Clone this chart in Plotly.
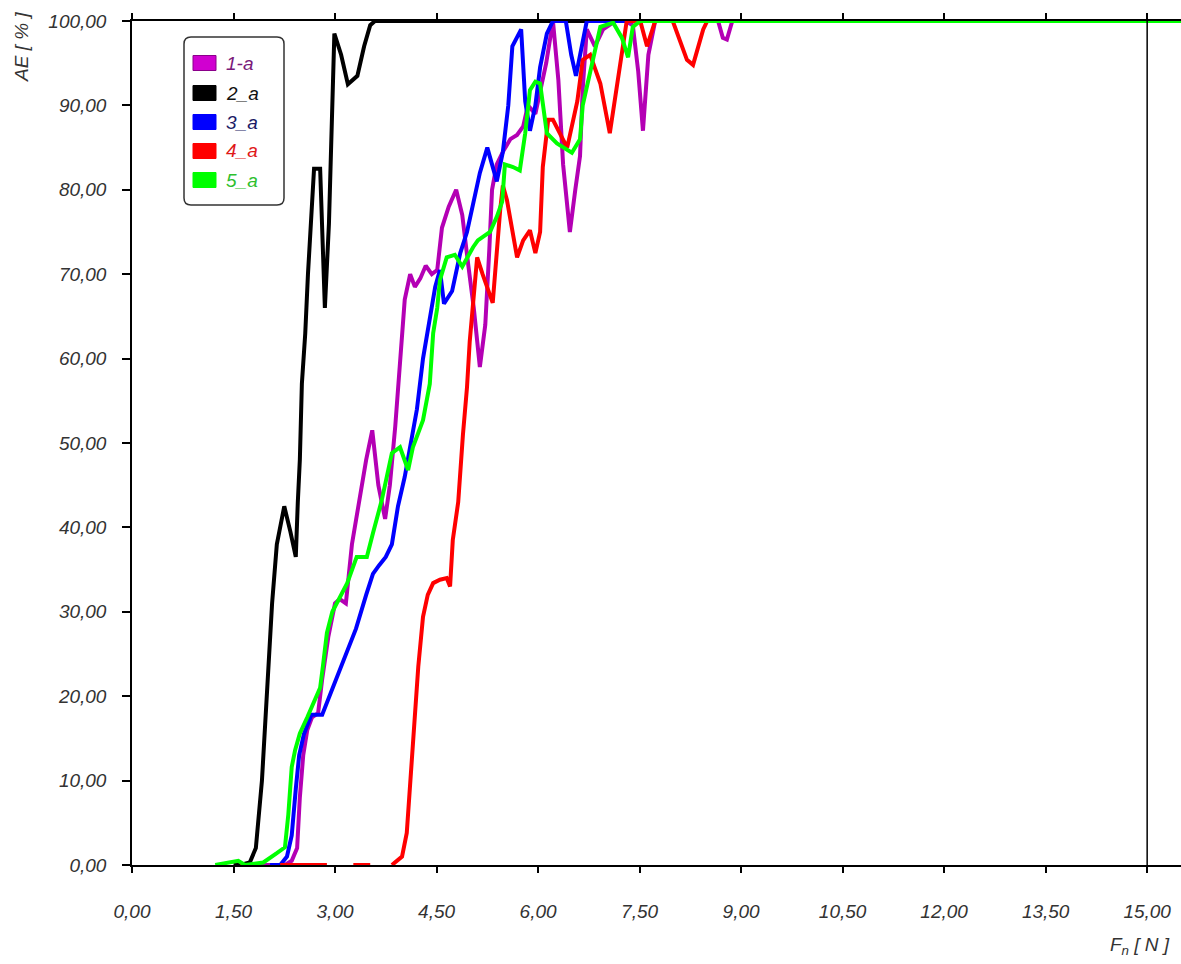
import plotly.graph_objects as go

# ---------------- data ----------------
names = ["1-a", "2_a", "3_a", "4_a", "5_a"]
line_colors = ["#B400B4", "#000000", "#0000FF", "#FF0000", "#00FF00"]
text_colors = ["#7A1A7A", "#111111", "#1A1A66", "#E01818", "#2EC02E"]

x_1a = [1.80, 2.26, 2.36, 2.44, 2.48, 2.53, 2.59, 2.66, 2.75, 2.81, 2.90, 3.00, 3.07, 3.16,
        3.25, 3.37, 3.46, 3.55, 3.64, 3.74, 3.81, 3.89, 3.96, 4.03, 4.11, 4.18, 4.26, 4.34,
        4.43, 4.51, 4.58, 4.68, 4.79, 4.88, 4.97, 5.05, 5.14, 5.22, 5.28, 5.32, 5.39, 5.48,
        5.59, 5.69, 5.78, 5.85, 5.96, 6.04, 6.12, 6.22, 6.30, 6.37, 6.43, 6.47, 6.55, 6.62,
        6.66, 6.72, 6.84, 6.96, 7.14, 7.29, 7.40, 7.48, 7.55, 7.63, 7.73, 8.66, 8.73, 8.79,
        8.87, 15.5]
y_1a = [0, 0, 0.5, 2, 8, 13, 16, 17.5, 18, 22, 27, 31, 31.5, 31,
        38, 44, 48, 51.5, 45, 41, 45, 52, 60, 67, 70, 68.5, 69.5, 71,
        70, 70.5, 75.5, 78, 80, 77, 71, 66, 59, 64, 73, 80, 83, 84.5,
        86, 86.5, 87.5, 90, 89, 92, 95, 100, 93, 83, 78, 75, 80, 84,
        92, 99, 97, 99, 100, 100, 99.5, 94, 87, 96, 100, 100, 98, 97.8,
        100, 100]

x_2a = [1.50, 1.60, 1.74, 1.83, 1.92, 1.99, 2.07, 2.14, 2.25, 2.34, 2.42, 2.45, 2.48, 2.51,
        2.56, 2.60, 2.65, 2.69, 2.78, 2.82, 2.85, 2.91, 2.96, 2.99, 3.09, 3.19, 3.33, 3.43,
        3.52, 3.59, 15.5]
y_2a = [0, 0, 0.3, 2, 10, 20, 31, 38, 42.5, 39.5, 36.5, 43, 48, 57,
        63, 70, 78, 82.5, 82.5, 72, 66, 76, 90, 98.5, 96, 92.5, 93.5, 97,
        99.5, 100, 100]

x_3a = [2.04, 2.19, 2.29, 2.36, 2.42, 2.47, 2.54, 2.65, 2.81, 2.97, 3.16, 3.31, 3.46, 3.56,
        3.65, 3.75, 3.84, 3.93, 4.03, 4.12, 4.21, 4.30, 4.40, 4.48, 4.55, 4.61, 4.73, 4.85,
        4.95, 5.05, 5.14, 5.25, 5.32, 5.39, 5.48, 5.56, 5.62, 5.75, 5.81, 5.88, 5.96, 6.03,
        6.13, 6.22, 6.41, 6.49, 6.56, 6.64, 6.72, 15.5]
y_3a = [0, 0, 1, 3.5, 9, 13, 15.5, 17.8, 17.8, 21, 25, 28, 32, 34.5,
        35.5, 36.5, 38, 42.5, 46, 50, 54, 60, 65, 68.5, 70.5, 66.5, 68, 72.5,
        75, 78.5, 82, 85, 83, 81, 84.5, 90, 97, 99, 90.5, 87, 90, 94.5,
        98.5, 100, 100, 96, 93.5, 97, 100, 100]

x_4a = [1.60, 1.67, None, 2.19, 2.88, None, 3.27, 3.52, None, 3.84, 3.99, 4.06, 4.11, 4.15,
        4.23, 4.30, 4.37, 4.45, 4.55, 4.65, 4.70, 4.74, 4.82, 4.89, 4.95, 4.99, 5.04, 5.10,
        5.18, 5.33, 5.44, 5.48, 5.54, 5.69, 5.78, 5.88, 5.96, 6.03, 6.07, 6.15, 6.22, 6.32,
        6.43, 6.58, 6.66, 6.77, 6.92, 7.06, 7.21, 7.31, 7.51, 7.61, 7.73, 7.99, 8.20, 8.29,
        8.44, 8.50, 15.5]
y_4a = [0, 0, None, 0, 0, None, 0, 0, None, 0, 1, 3.8, 9.7, 15.6,
        23.5, 29.4, 32, 33.4, 33.8, 34, 33, 38.5, 43, 51, 56.6, 62, 67, 72,
        70, 66.6, 77.6, 80.5, 78.8, 72, 74, 75.2, 72.5, 75, 82.7, 88.3, 88.3, 86.7,
        85, 90.5, 95.4, 96, 92.6, 86.7, 94.5, 100, 100, 97, 100, 100, 95.4, 94.8,
        99, 100, 100]

x_5a = [1.23, 1.45, 1.57, 1.67, 1.94, 2.14, 2.26, 2.31, 2.36, 2.41, 2.48, 2.59, 2.70, 2.78,
        2.82, 2.88, 2.96, 3.07, 3.18, 3.32, 3.47, 3.56, 3.69, 3.84, 3.96, 4.08, 4.15, 4.30,
        4.40, 4.45, 4.51, 4.55, 4.65, 4.77, 4.88, 5.04, 5.11, 5.29, 5.39, 5.47, 5.51, 5.63,
        5.73, 5.81, 5.88, 5.96, 6.03, 6.13, 6.28, 6.50, 6.62, 6.66, 6.77, 6.92, 7.11, 7.24,
        7.33, 7.40, 7.51, 15.5]
y_5a = [0, 0.3, 0.5, 0, 0.3, 1.4, 2.1, 6, 11.6, 13.6, 15.6, 17.5, 19.5, 21,
        23.5, 27.5, 30, 31.6, 33.4, 36.5, 36.5, 39.3, 43.2, 48.8, 49.5, 46.8, 49.5, 52.7,
        57, 63, 66, 69.3, 72, 72.3, 70.9, 73.2, 74, 75, 76.8, 78.6, 83, 82.7,
        82.3, 86.7, 91.8, 92.8, 92.6, 86.7, 85.5, 84.4, 86, 90, 94, 99.3, 99.8, 98,
        95.7, 99.3, 100, 100]

xs = [x_1a, x_2a, x_3a, x_4a, x_5a]
ys = [y_1a, y_2a, y_3a, y_4a, y_5a]

x_ticks = [0, 1.5, 3, 4.5, 6, 7.5, 9, 10.5, 12, 13.5, 15]
x_ticklabels = ["0,00", "1,50", "3,00", "4,50", "6,00", "7,50", "9,00",
                "10,50", "12,00", "13,50", "15,00"]
y_ticks = [0, 10, 20, 30, 40, 50, 60, 70, 80, 90, 100]
y_ticklabels = ["0,00", "10,00", "20,00", "30,00", "40,00", "50,00", "60,00",
                "70,00", "80,00", "90,00", "100,00"]

# ---------------- layout geometry (pixels) ----------------
W, H = 1181, 964
L, R, T, B = 132, 0, 21, 99
PW = W - L - R
PH = H - T - B


def px_x(px):
    return (px - L) / PW


def px_y(py):
    return (H - B - py) / PH


FONT = "Liberation Sans, Arial, sans-serif"
TXT = "#333333"

fig = go.Figure()
for name, c, x, y in zip(names, line_colors, xs, ys):
    fig.add_trace(go.Scatter(x=x, y=y, mode="lines", name=name,
                             line=dict(color=c, width=4), showlegend=False,
                             hoverinfo="skip"))

# vertical line at x = 15
fig.add_shape(type="line", xref="x", yref="paper", x0=15, x1=15, y0=-0.006, y1=1.008,
              line=dict(color="black", width=1.5))

# custom legend box (rounded)
bx0, bx1, by0, by1 = px_x(184), px_x(284), px_y(205), px_y(37)
rx, ry = 7 / PW, 7 / PH
path = (f"M {bx0+rx},{by1} L {bx1-rx},{by1} Q {bx1},{by1} {bx1},{by1-ry} "
        f"L {bx1},{by0+ry} Q {bx1},{by0} {bx1-rx},{by0} "
        f"L {bx0+rx},{by0} Q {bx0},{by0} {bx0},{by0+ry} "
        f"L {bx0},{by1-ry} Q {bx0},{by1} {bx0+rx},{by1} Z")
fig.add_shape(type="path", xref="paper", yref="paper", path=path,
              fillcolor="white", line=dict(color="#333333", width=1.5), layer="above")

row_y = [63, 93, 122, 151, 180]
for i, (name, c, tc) in enumerate(zip(names, line_colors, text_colors)):
    cy = row_y[i]
    fig.add_shape(type="rect", xref="paper", yref="paper",
                  x0=px_x(193), x1=px_x(216), y0=px_y(cy + 7.5), y1=px_y(cy - 7.5),
                  fillcolor=("#D000D0" if i == 0 else c),
                  line=dict(color=("#8A008A" if i == 0 else c), width=1), layer="above")
    fig.add_annotation(xref="paper", yref="paper", x=px_x(224), y=px_y(cy),
                       xanchor="left", yanchor="middle", showarrow=False,
                       text=name, font=dict(family=FONT, size=19, color=tc, style="italic"))

# axis titles
fig.add_annotation(xref="paper", yref="paper", x=px_x(21), y=px_y(10),
                   xanchor="center", yanchor="top", textangle=-90, showarrow=False,
                   text="AE [ % ]", font=dict(family=FONT, size=19, color=TXT, style="italic"))
fig.add_annotation(xref="paper", yref="paper", x=px_x(1140), y=px_y(946),
                   xanchor="center", yanchor="middle", showarrow=False,
                   text="F<sub>n</sub> [ N ]", font=dict(family=FONT, size=19, color=TXT, style="italic"))

fig.update_layout(
    width=W, height=H,
    margin=dict(l=L, r=R, t=T, b=B, pad=0),
    paper_bgcolor="white", plot_bgcolor="white",
    showlegend=False,
    font=dict(family=FONT, size=19, color=TXT),
)
fig.update_xaxes(range=[0, 15.5], tickvals=x_ticks, ticktext=x_ticklabels,
                 showgrid=False, zeroline=False, showline=True, linecolor="black",
                 linewidth=1.5, mirror="allticks", ticks="outside", ticklen=6,
                 tickcolor="black", tickwidth=1.5, ticklabelstandoff=22,
                 tickfont=dict(family=FONT, size=19, color=TXT, style="italic"))
fig.update_yaxes(range=[0, 100], tickvals=y_ticks, ticktext=y_ticklabels,
                 showgrid=False, zeroline=False, showline=True, linecolor="black",
                 linewidth=1.5, ticks="outside", ticklen=8,
                 tickcolor="black", tickwidth=1.5, ticklabelstandoff=12,
                 tickfont=dict(family=FONT, size=19, color=TXT, style="italic"))

fig.write_html("out.html")
